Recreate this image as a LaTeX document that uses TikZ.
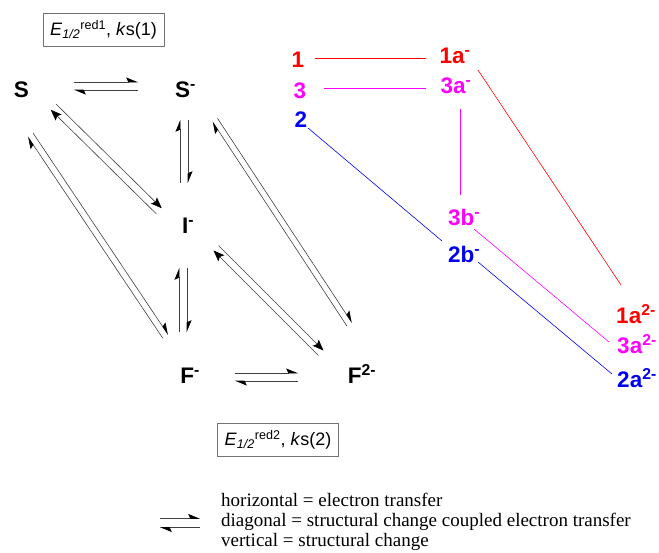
\documentclass[tikz,border=0pt]{standalone}
\usepackage{fontspec}
\setmainfont{Liberation Sans}
\newfontfamily\legendfont{Liberation Serif}
\usepackage{xcolor}
\usetikzlibrary{arrows.meta, calc}

\definecolor{cred}{RGB}{255,0,0}
\definecolor{cmag}{RGB}{255,0,255}
\definecolor{cblue}{RGB}{0,0,240}

% 平衡箭头：#1 起点, #2 终点, #3 偏移, #4 箭头样式
\newcommand{\eqpair}[4]{%
    \draw[eqline, #4] ($(#1)!#3!90:(#2)$) -- ($(#2)!#3!-90:(#1)$);
    \draw[eqline, #4] ($(#2)!#3!90:(#1)$) -- ($(#1)!#3!-90:(#2)$);
}

\begin{document}
\begin{tikzpicture}[
            x=1pt, y=-1pt,
            % ---- 预定义样式 ----
            eqline/.style = {draw=black!75, line width=0.6pt},
            half/.style = {-{Stealth[harpoon, length=11pt, width=9pt, inset=2pt, color=black]}},
            full/.style = {-{Stealth[length=11pt, width=8.5pt, inset=2pt, color=black]}},
            sp/.style = {anchor=base, inner sep=0pt, font=\bfseries\fontsize{22.5}{24}\selectfont},
            kbox/.style = {draw=black!55, line width=0.8pt, minimum width=121pt, minimum height=33pt,
                           inner sep=0pt, font=\fontsize{18}{20}\selectfont},
            link/.style = {line width=0.6pt}
        ]
        \useasboundingbox (0,0) rectangle (659,552);

        % ===================== 左侧区域 =====================
        \node[sp] (S)  at (21.5,97) {S};
        \node[sp] (Sm) at (185.5,97) {S\textsuperscript{-}};
        \node[sp] (Im) at (188,233) {I\textsuperscript{-}};
        \node[sp] (Fm) at (190,383) {F\textsuperscript{-}};
        \node[sp] (Ft) at (362,383) {F\textsuperscript{2-}};

        \node[kbox] (k1) at (103.5,29.5) {\textit{E}\textsubscript{\textit{1/2}}\textsuperscript{red1}, \textit{k}s(1)};
        \node[kbox] (k2) at (278,439.5) {\textit{E}\textsubscript{\textit{1/2}}\textsuperscript{red2}, \textit{k}s(2)};

        % 箭头端点（相对于各物种）
        \coordinate (ss1) at ($(S.base)+(52.5,-11)$);
        \coordinate (ss2) at ($(Sm.base)+(-47.5,-11)$);
        \coordinate (sm1) at ($(Sm.base)+(-1.5,23)$);
        \coordinate (sm2) at ($(Im.base)+(-4,-50)$);
        \coordinate (si1) at ($(S.base)+(32,10)$);
        \coordinate (si2) at ($(Im.base)+(-29,-22)$);
        \coordinate (sf1) at ($(S.base)+(9,38)$);
        \coordinate (sf2) at ($(Fm.base)+(-24.5,-46.5)$);
        \coordinate (st1) at ($(Sm.base)+(29.5,23)$);
        \coordinate (st2) at ($(Ft.base)+(-12.5,-58.5)$);
        \coordinate (if1) at ($(Im.base)+(-5,35)$);
        \coordinate (if2) at ($(Fm.base)+(-7,-51)$);
        \coordinate (it1) at ($(Im.base)+(28,15)$);
        \coordinate (it2) at ($(Ft.base)+(-41,-30)$);
        \coordinate (ft1) at ($(Fm.base)+(45,-6)$);
        \coordinate (ft2) at ($(Ft.base)+(-64,-6)$);

        % ---- 平衡箭头 ----
        \eqpair{ss1}{ss2}{4pt}{half}
        \eqpair{sm1}{sm2}{4pt}{half}
        \eqpair{si1}{si2}{3.9pt}{full}
        \eqpair{sf1}{sf2}{3.2pt}{half}
        \eqpair{st1}{st2}{3pt}{half}
        \eqpair{if1}{if2}{4pt}{half}
        \eqpair{it1}{it2}{3.5pt}{full}
        \eqpair{ft1}{ft2}{4pt}{half}

        % ===================== 右侧区域 =====================
        \node[sp, text=cred]  (one)     at (298,67)  {1};
        \node[sp, text=cmag]  (three)   at (300,98)  {3};
        \node[sp, text=cblue] (two)     at (301,127) {2};
        \node[sp, text=cred]  (onea)    at (455,63)  {1a\textsuperscript{-}};
        \node[sp, text=cmag]  (threea)  at (456,93)  {3a\textsuperscript{-}};
        \node[sp, text=cmag]  (threeb)  at (464,225) {3b\textsuperscript{-}};
        \node[sp, text=cblue] (twob)    at (464,262) {2b\textsuperscript{-}};
        \node[sp, text=cred]  (oneaa)   at (636,323) {1a\textsuperscript{2-}};
        \node[sp, text=cmag]  (threeaa) at (637,353) {3a\textsuperscript{2-}};
        \node[sp, text=cblue] (twoaa)   at (637,387) {2a\textsuperscript{2-}};

        % ---- 连线 ----
        \draw[link, draw=cred]  ($(one.base)+(17,-9)$) -- ($(onea.base)+(-29,-5)$);
        \draw[link, draw=cmag]  ($(three.base)+(24,-9.5)$) -- ($(threea.base)+(-30,-4.5)$);
        \draw[link, draw=cmag]  ($(threea.base)+(4,16)$) -- ($(threeb.base)+(-4,-30)$);
        \draw[link, draw=cred]  ($(onea.base)+(23,7)$) -- ($(oneaa.base)+(-15,-38)$);
        \draw[link, draw=cblue] ($(two.base)+(7,1)$) -- ($(twob.base)+(-22,-21)$);
        \draw[link, draw=cmag]  ($(threeb.base)+(10,4)$) -- ($(threeaa.base)+(-28,-11)$);
        \draw[link, draw=cblue] ($(twob.base)+(14,0)$) -- ($(twoaa.base)+(-25,-13)$);

        % ===================== 图例 =====================
        \node[anchor=west, inner sep=0pt, align=left, font=\legendfont\fontsize{19}{20}\selectfont] (legend) at (221,522)
            {horizontal = electron transfer\\ diagonal = structural change coupled electron transfer\\ vertical = structural change};
        \coordinate (lg1) at ($(legend.west)+(-61,1)$);
        \coordinate (lg2) at ($(legend.west)+(-21,1)$);
        \eqpair{lg1}{lg2}{4.5pt}{half}

        \end{tikzpicture}
\end{document}
